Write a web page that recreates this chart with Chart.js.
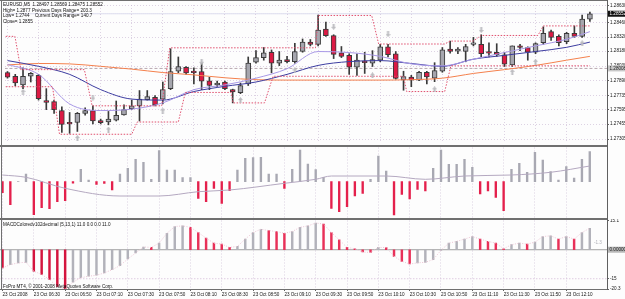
<!DOCTYPE html>
<html><head><meta charset="utf-8">
<script src="https://cdn.jsdelivr.net/npm/chart.js@4.4.1/dist/chart.umd.min.js"></script>
<style>
html,body{margin:0;padding:0;background:#fff;}
#wrap{position:relative;width:625px;height:299px;overflow:hidden;background:#fdfdfd;font-family:'Liberation Sans',Arial,sans-serif;}
canvas{position:absolute;left:0;}
.ln{position:absolute;background:#707070;}
.tx{position:absolute;font-size:4.6px;line-height:5.7px;color:#111;white-space:pre;}
</style></head><body>
<div id="wrap">
<canvas id="c1" width="625" height="146" style="top:0px"></canvas>
<canvas id="c2" width="625" height="72" style="top:147px"></canvas>
<canvas id="c3" width="625" height="80" style="top:219px"></canvas>
<div class="ln" style="left:0;top:0;width:607px;height:1px"></div>
<div class="ln" style="left:1px;top:0;width:1px;height:290px"></div>
<div class="ln" style="left:607px;top:0;width:1px;height:290px;background:#606060"></div>
<div class="ln" style="left:0;top:145px;width:607px;height:2px"></div>
<div class="ln" style="left:0;top:218px;width:607px;height:2px"></div>
<div class="ln" style="left:0;top:289px;width:607px;height:1px"></div>
<div class="tx" style="left:3px;top:2px">EURUSD,M5  1.28497 1.28569 1.28475 1.28552</div>
<div class="tx" style="left:3px;top:7.7px">High= 1.2877</div>
<div class="tx" style="left:32px;top:7.7px">Previous Days Range= 203.3</div>
<div class="tx" style="left:3px;top:13.4px">Low= 1.2744</div>
<div class="tx" style="left:35px;top:13.4px">Current Days Range= 140.7</div>
<div class="tx" style="left:3px;top:19.1px">Close= 1.2855</div>
<div class="tx" style="left:3px;top:221.5px">MACDColoredv102decimal (5,13,1) 11.0 0.0 0.0 11.0</div>
<div class="tx" style="left:3px;top:283.5px">FxPro MT4, © 2001-2008 MetaQuotes Software Corp.</div>
<div class="tx" style="left:594px;top:239.5px;color:#b0b0b8">-1.3</div>
</div>
<script>
// ---------- data ----------
const timeLabels = ["23 Oct 2008","23 Oct 06:30","23 Oct 06:50","23 Oct 07:10","23 Oct 07:30","23 Oct 07:50","23 Oct 08:10","23 Oct 08:30","23 Oct 08:50","23 Oct 09:10","23 Oct 09:30","23 Oct 09:50","23 Oct 10:10","23 Oct 10:30","23 Oct 10:50","23 Oct 11:10","23 Oct 11:30","23 Oct 11:50","23 Oct 12:10"];
const barsPerLabel = 4;
const priceTicks = [1.28630,1.28460,1.28320,1.28180,1.28030,1.27890,1.27735,1.27595,1.27455,1.27305];

const open  = [1.27967,1.27930,1.27844,1.27930,1.27939,1.27688,1.27679,1.27588,1.27470,1.27470,1.27561,1.27588,1.27490,1.27475,1.27494,1.27546,1.27608,1.27636,1.27698,1.27720,1.27703,1.27807,1.27980,1.28018,1.27980,1.27977,1.27885,1.27844,1.27873,1.27797,1.27766,1.27854,1.28069,1.28116,1.28169,1.28060,1.28097,1.28074,1.28178,1.28270,1.28248,1.28400,1.28334,1.28163,1.28138,1.28021,1.28081,1.28060,1.28090,1.28223,1.28154,1.27894,1.27923,1.27891,1.27970,1.27911,1.27980,1.28201,1.28180,1.28178,1.28247,1.28248,1.28176,1.28169,1.28144,1.28043,1.28232,1.28216,1.28169,1.28263,1.28374,1.28327,1.28273,1.28358,1.28327,1.28497];
const high  = [1.27977,1.27949,1.28015,1.27967,1.27949,1.27807,1.27693,1.27627,1.27570,1.27570,1.27617,1.27636,1.27504,1.27580,1.27684,1.27646,1.27693,1.27788,1.27788,1.27738,1.27873,1.28204,1.28122,1.28027,1.28015,1.28062,1.27920,1.27882,1.27882,1.27802,1.27863,1.28122,1.28185,1.28216,1.28192,1.28176,1.28128,1.28258,1.28301,1.28296,1.28538,1.28469,1.28343,1.28226,1.28154,1.28154,1.28169,1.28185,1.28248,1.28248,1.28176,1.27980,1.27939,1.27980,1.27980,1.28065,1.28216,1.28280,1.28216,1.28248,1.28317,1.28343,1.28263,1.28254,1.28169,1.28232,1.28248,1.28223,1.28263,1.28422,1.28390,1.28343,1.28368,1.28431,1.28538,1.28569];
const low   = [1.27911,1.27835,1.27807,1.27873,1.27693,1.27598,1.27561,1.27372,1.27362,1.27381,1.27542,1.27456,1.27456,1.27447,1.27485,1.27542,1.27598,1.27485,1.27693,1.27636,1.27656,1.27797,1.27964,1.27949,1.27854,1.27797,1.27797,1.27826,1.27797,1.27665,1.27757,1.27838,1.28060,1.28090,1.27964,1.28036,1.28062,1.28060,1.28169,1.28232,1.28232,1.28327,1.28106,1.28116,1.27949,1.27939,1.27958,1.28027,1.28074,1.28122,1.27901,1.27791,1.27826,1.27885,1.27854,1.27876,1.27970,1.28159,1.28154,1.28074,1.28232,1.28122,1.28122,1.28128,1.28027,1.28027,1.28185,1.28090,1.28154,1.28248,1.28286,1.28232,1.28254,1.28317,1.28317,1.28475];
const close = [1.27920,1.27863,1.27930,1.27958,1.27707,1.27669,1.27598,1.27452,1.27456,1.27561,1.27588,1.27485,1.27469,1.27504,1.27542,1.27598,1.27636,1.27703,1.27729,1.27646,1.27797,1.27977,1.28027,1.27964,1.27967,1.27882,1.27838,1.27863,1.27807,1.27775,1.27838,1.28062,1.28116,1.28163,1.28060,1.28090,1.28074,1.28176,1.28270,1.28248,1.28390,1.28334,1.28147,1.28128,1.28021,1.28090,1.28065,1.28097,1.28223,1.28144,1.27908,1.27927,1.27891,1.27970,1.27923,1.27986,1.28192,1.28178,1.28200,1.28226,1.28251,1.28154,1.28159,1.28144,1.28050,1.28232,1.28216,1.28169,1.28254,1.28358,1.28317,1.28263,1.28358,1.28327,1.28500,1.28552];

const maIdx  = [0,4,8,12,16,20,24,28,32,36,40,44,48,52,56,60,64,68,72,75];
const maSlow = [1.28043,1.28057,1.28053,1.28029,1.28001,1.27967,1.27944,1.27915,1.27896,1.27892,1.27892,1.27892,1.27892,1.27896,1.27911,1.27958,1.27996,1.28038,1.28090,1.28128];
const maMid  = [1.28086,1.28029,1.27949,1.27797,1.27703,1.27693,1.27778,1.27830,1.27873,1.27949,1.28038,1.28076,1.28086,1.28057,1.28029,1.28100,1.28138,1.28176,1.28218,1.28270];
const maFast = [1.28048,1.27949,1.27655,1.27589,1.27603,1.27665,1.27797,1.27844,1.27911,1.28005,1.28176,1.28166,1.28128,1.28053,1.28034,1.28100,1.28166,1.28232,1.28298,1.28374];

const chanUpIdx = [-1,0.96,1.72,9.9,10.9,19.86,20.9,39.66,40.04,46.9,47.8,56.3,57.0,59.96,61.0,68.3,69.0,75.0];
const chanUp    = [1.28327,1.28327,1.27996,1.27996,1.27636,1.27636,1.28213,1.28213,1.28535,1.28535,1.28251,1.28251,1.28280,1.28280,1.28336,1.28336,1.28431,1.28431];
const chanLoIdx = [-1,5.8,6.7,16.0,16.7,22.0,22.9,28.8,29.05,33.1,34.2,51.0,51.4,56.3,57.1,75];
const chanLo    = [1.27826,1.27826,1.27353,1.27353,1.27475,1.27475,1.27769,1.27769,1.27665,1.27665,1.27930,1.27930,1.27778,1.27778,1.28034,1.28034];

const fracUpIdx = [2,9,13,20,30,37,47,55,65,68,74];
const fracUp    = [1.27775,1.27315,1.27400,1.27589,1.27693,1.27989,1.27939,1.27800,1.27974,1.28074,1.28258];
const fracDnIdx = [11,25,42,49,61];
const fracDn    = [1.27718,1.28074,1.28422,1.28349,1.28390];

const bidPrice = 1.28552;
const levelPrice = 1.28008;

const osc = [-11,-23,0,7.5,-33,-26,-27,-20,-19,-1.5,12.4,1.7,-2.6,-1.6,-8.3,7.7,13.4,22.4,19.4,2.4,31,11.7,11.7,4,4,-16.6,-20,-6.6,-21.6,-9,11.7,23.4,24,24.4,7.7,7.7,-6.6,12.4,31.7,17.7,12,4.4,-26.6,-30,-25,-14.3,-11.6,2.4,25.7,10.7,-33.3,-12.6,-17.3,-7.6,-9.3,13.4,31.7,17.4,17.4,22.4,14.4,-12.3,-9.3,-15.6,-29,12.4,18.4,9.4,29.4,21.7,10,1.7,15,3.7,22.4,30];
const oscSigIdx = [0,3,8,15,20,25,29,36,40,42,49,54,59,65,70,75];
const oscSig    = [6.7,4.4,-6.6,-14.3,-14.3,-10,-8.3,-1.6,2.4,5.7,5.7,2.4,5.7,6.7,9.4,15.7];

const macd = [-9.4,-7.7,-6.8,-6.5,-11.1,-12.8,-15.4,-19.1,-20.3,-16.8,-14.5,-13.7,-13.2,-12,-10.3,-8.2,-4.8,-1.7,1.4,1.2,3.4,8.5,12,12.3,11.6,8.9,6,3.4,2.9,1.2,1.7,5.5,8.9,10.6,9.9,9.4,8.5,9.4,11.6,12.3,13.8,13.3,8.9,5.1,1.2,0.5,-1.2,-1.4,1.2,1.1,-3.4,-6,-7.4,-6.8,-6.5,-5.1,-0.3,3.4,4.3,5.5,6.8,5.5,4.3,3.4,0.5,2.6,3.4,2.9,3.9,6.8,7.2,5.5,6.8,5.5,8.9,11.1];
const macdTicks = [15.1,-15,-20.3];
const macdLevels = [0,-15];

// ---------- setup ----------
Chart.defaults.animation = false;
Chart.defaults.font.family = "'Liberation Sans', Arial, sans-serif";
Chart.defaults.font.size = 4.6;
Chart.defaults.color = '#151515';
Chart.defaults.plugins.legend.display = false;
Chart.defaults.plugins.tooltip.enabled = false;

const X_MIN = -0.32, X_MAX = 77.2;
const labelIdx = timeLabels.map((_, k) => k * barsPerLabel);
const gridCol = 'rgba(195,175,205,0.55)';
const pts = (xs, ys) => xs.map((x, k) => ({x, y: ys[k]}));
const hline = v => [{x: X_MIN - 2, y: v}, {x: X_MAX + 2, y: v}];
const zeroPad = s => { s.paddingTop = 0; s.paddingBottom = 0; s.paddingLeft = 0; s.paddingRight = 0; };

function xScale(show) {
  return {
    type: 'linear', min: X_MIN, max: X_MAX, offset: false,
    afterBuildTicks: s => { s.ticks = labelIdx.map(v => ({value: v})); },
    grid: {color: gridCol, offset: false, drawTicks: show, tickLength: 2, tickColor: '#606060'},
    border: {display: false, dash: [1, 2]},
    ticks: show ? {display: true, autoSkip: false, maxRotation: 0, minRotation: 0, align: 'start', padding: 1,
                   callback: (v, i) => timeLabels[i]} : {display: false},
    afterFit: s => { s.height = show ? 10 : 0; zeroPad(s); }
  };
}

function arrowCanvas(up) {
  const c = document.createElement('canvas'); c.width = 5; c.height = 6;
  const g = c.getContext('2d'); g.fillStyle = '#bcbcc0'; g.beginPath();
  if (up) { g.moveTo(2.5,0); g.lineTo(5,3); g.lineTo(3.5,3); g.lineTo(3.5,6); g.lineTo(1.5,6); g.lineTo(1.5,3); g.lineTo(0,3); }
  else    { g.moveTo(2.5,6); g.lineTo(5,3); g.lineTo(3.5,3); g.lineTo(3.5,0); g.lineTo(1.5,0); g.lineTo(1.5,3); g.lineTo(0,3); }
  g.closePath(); g.fill(); return c;
}

const boxPlugin = {
  id: 'boxes',
  afterDraw(chart, args, opts) {
    const ctx = chart.ctx, sc = chart.scales.y;
    (opts.items || []).forEach(b => {
      const py = sc.getPixelForValue(b.value);
      ctx.save();
      ctx.fillStyle = b.bg; ctx.fillRect(608, py - 3, 17, 6);
      ctx.fillStyle = b.fg; ctx.font = "4.6px 'Liberation Sans'"; ctx.textBaseline = 'middle'; ctx.textAlign = 'left';
      ctx.fillText(b.text, 609.5, py + 0.3);
      ctx.restore();
    });
  }
};

// ---------- main price pane ----------
const bull = close.map((c, i) => c >= open[i]);
new Chart(document.getElementById('c1'), {
  type: 'bar',
  data: {datasets: [
    {type: 'line', data: pts(fracUpIdx, fracUp), showLine: false, pointStyle: arrowCanvas(true), pointRadius: 3, order: 0},
    {type: 'line', data: pts(fracDnIdx, fracDn), showLine: false, pointStyle: arrowCanvas(false), pointRadius: 3, order: 0},
    {type: 'line', data: pts(chanUpIdx, chanUp), borderColor: '#e0506e', borderWidth: 1, borderDash: [1.5, 1.5], pointRadius: 0, tension: 0, order: 1},
    {type: 'line', data: pts(chanLoIdx, chanLo), borderColor: '#e0506e', borderWidth: 1, borderDash: [1.5, 1.5], pointRadius: 0, tension: 0, order: 1},
    {type: 'line', data: pts(maIdx, maFast), borderColor: '#a898e6', borderWidth: 1, pointRadius: 0, cubicInterpolationMode: 'monotone', order: 2},
    {type: 'line', data: pts(maIdx, maMid), borderColor: '#3c3ca0', borderWidth: 1, pointRadius: 0, cubicInterpolationMode: 'monotone', order: 2},
    {type: 'line', data: pts(maIdx, maSlow), borderColor: '#f4804c', borderWidth: 1, pointRadius: 0, cubicInterpolationMode: 'monotone', order: 2},
    {type: 'line', data: hline(bidPrice), borderColor: '#b8b8dc', borderWidth: 1, borderDash: [1, 1], pointRadius: 0, order: 6},
    {type: 'line', data: hline(levelPrice), borderColor: '#b8a8b0', borderWidth: 1, borderDash: [3, 2], pointRadius: 0, order: 6},
    {type: 'bar', data: open.map((o, i) => ({x: i, y: [o, close[i]]})), grouped: false, barThickness: 5, minBarLength: 1.5,
     backgroundColor: bull.map(b => b ? '#a6a6ae' : '#dc1a44'), borderColor: '#3a3a3a', borderWidth: 1, borderSkipped: false, order: 3},
    {type: 'bar', data: low.map((l, i) => ({x: i, y: [l, high[i]]})), grouped: false, barThickness: 1,
     backgroundColor: '#3a3a3a', order: 4}
  ]},
  options: {
    responsive: false, maintainAspectRatio: false,
    layout: {padding: {left: 0, right: 0, top: 2, bottom: 1}},
    scales: {
      x: xScale(false),
      y: {type: 'linear', position: 'right', min: 1.27286, max: 1.28639,
          afterBuildTicks: s => { s.ticks = priceTicks.map(v => ({value: v})); },
          ticks: {padding: 1, autoSkip: false, callback: v => v.toFixed(5)},
          grid: {color: gridCol, drawTicks: true, tickLength: 2, tickColor: '#606060'},
          border: {display: false, dash: [1, 2]},
          afterFit: s => { s.width = 18; zeroPad(s); }}
    },
    plugins: {boxes: {items: [
      {value: bidPrice, text: bidPrice.toFixed(5), bg: '#101010', fg: '#ffffff'},
      {value: levelPrice, text: levelPrice.toFixed(5), bg: '#c8c8c8', fg: '#202020'}
    ]}}
  },
  plugins: [boxPlugin]
});

// ---------- oscillator pane ----------
new Chart(document.getElementById('c2'), {
  type: 'bar',
  data: {datasets: [
    {type: 'line', data: pts(oscSigIdx, oscSig), borderColor: '#b4a8c0', borderWidth: 1, pointRadius: 0, cubicInterpolationMode: 'monotone', order: 0},
    {type: 'bar', data: osc.map((v, i) => ({x: i, y: v})), grouped: false, barThickness: 1.7,
     backgroundColor: osc.map(v => v < 0 ? '#e4204c' : '#a8a8b2'), order: 1}
  ]},
  options: {
    responsive: false, maintainAspectRatio: false,
    layout: {padding: {left: 0, right: 0, top: 0.5, bottom: 1}},
    scales: {
      x: xScale(false),
      y: {type: 'linear', position: 'right', min: -36.3, max: 34.2,
          ticks: {display: false}, grid: {display: false}, border: {display: false},
          afterFit: s => { s.width = 18; zeroPad(s); }}
    }
  }
});

// ---------- MACD pane ----------
const macdCol = macd.map((v, i) => (i === 0 || v < macd[i - 1]) ? (i < 9 ? '#d4143e' : '#e83058') : '#b2b2ba');
new Chart(document.getElementById('c3'), {
  type: 'bar',
  data: {datasets: [
    {type: 'line', data: hline(macdLevels[0]), borderColor: '#a0a0a0', borderWidth: 1, pointRadius: 0, order: 3},
    {type: 'line', data: hline(macdLevels[1]), borderColor: '#d0b4d4', borderWidth: 1, borderDash: [1, 2], pointRadius: 0, order: 3},
    {type: 'line', data: macd.map((v, i) => ({x: i, y: v})), borderColor: '#ecc4d4', borderWidth: 1, borderDash: [1, 1.5], pointRadius: 0, tension: 0, order: 0},
    {type: 'bar', data: macd.map((v, i) => ({x: i, y: v})), grouped: false, barThickness: 1.8,
     backgroundColor: macdCol, order: 1}
  ]},
  options: {
    responsive: false, maintainAspectRatio: false,
    layout: {padding: {left: 0, right: 0, top: 1.5, bottom: 0}},
    scales: {
      x: xScale(true),
      y: {type: 'linear', position: 'right', min: -20.3, max: 15.1,
          afterBuildTicks: s => { s.ticks = macdTicks.map(v => ({value: v})); },
          ticks: {padding: 1, autoSkip: false, callback: v => String(v)},
          grid: {display: true, drawOnChartArea: false, drawTicks: true, tickLength: 2, tickColor: '#606060'},
          border: {display: false},
          afterFit: s => { s.width = 18; zeroPad(s); }}
    },
    plugins: {boxes: {items: [{value: 0, text: '0.00000', bg: '#b8b8b8', fg: '#202020'}]}}
  },
  plugins: [boxPlugin]
});
</script>
</body></html>
